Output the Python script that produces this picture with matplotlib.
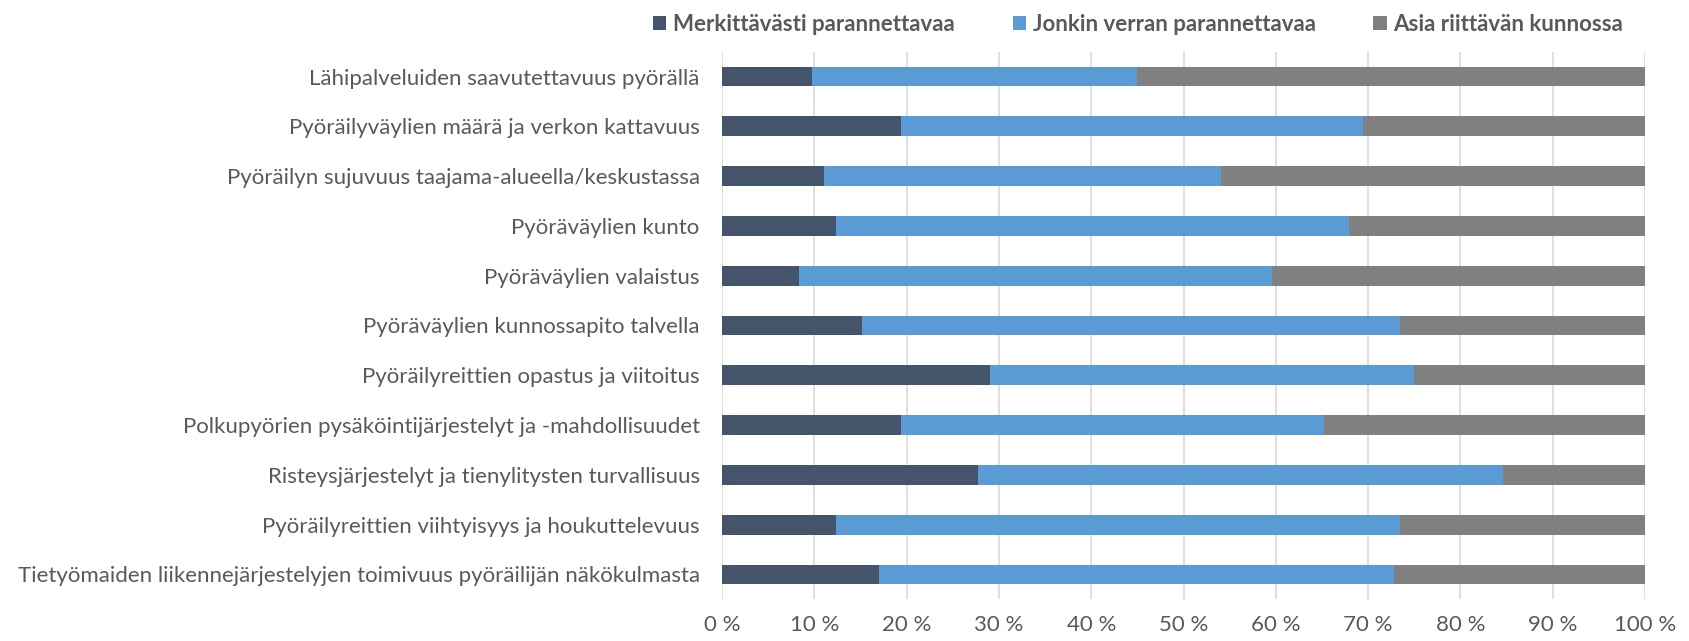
import numpy as np
import matplotlib.pyplot as plt
from matplotlib.ticker import FuncFormatter

plt.rcParams['font.family'] = ['Lato', 'DejaVu Sans']

# Kysymykset (ylhäältä alas)
kategoriat = [
    "Lähipalveluiden saavutettavuus pyörällä",
    "Pyöräilyväylien määrä ja verkon kattavuus",
    "Pyöräilyn sujuvuus taajama-alueella/keskustassa",
    "Pyöräväylien kunto",
    "Pyöräväylien valaistus",
    "Pyöräväylien kunnossapito talvella",
    "Pyöräilyreittien opastus ja viitoitus",
    "Polkupyörien pysäköintijärjestelyt ja -mahdollisuudet",
    "Risteysjärjestelyt ja tienylitysten turvallisuus",
    "Pyöräilyreittien viihtyisyys ja houkuttelevuus",
    "Tietyömaiden liikennejärjestelyjen toimivuus pyöräilijän näkökulmasta",
]

# Osuudet prosentteina
merkittavasti = [9.8, 19.4, 11.0, 12.4, 8.3, 15.2, 29.0, 19.4, 27.7, 12.4, 17.0]
jonkin_verran = [35.2, 50.0, 43.1, 55.5, 51.3, 58.3, 46.0, 45.8, 56.9, 61.1, 55.8]
riittava = [55.0, 30.6, 45.9, 32.1, 40.4, 26.5, 25.0, 34.8, 15.4, 26.5, 27.2]

sarjat = ["Merkittävästi parannettavaa", "Jonkin verran parannettavaa", "Asia riittävän kunnossa"]
varit = ["#44546A", "#5B9BD5", "#808080"]
tekstivari = "#595959"

fig = plt.figure(figsize=(16.9, 6.41), dpi=100)
ax = fig.add_axes([0.4272, 0.0649, 0.5462, 0.8546])

y = np.arange(len(kategoriat))
vasen = np.zeros(len(kategoriat))
for arvot, nimi, vari in zip([merkittavasti, jonkin_verran, riittava], sarjat, varit):
    arvot = np.array(arvot)
    ax.barh(y, arvot, left=vasen, height=0.4, color=vari, label=nimi, zorder=3)
    vasen += arvot

ax.set_ylim(len(kategoriat) - 0.5, -0.5)
ax.set_xlim(0, 100)
ax.set_xticks(np.arange(0, 101, 10))
ax.xaxis.set_major_formatter(FuncFormatter(lambda v, p: f"{int(v)} %"))
ax.set_yticks(y)
ax.set_yticklabels(kategoriat)
ax.tick_params(axis='both', length=0, labelsize=16, colors=tekstivari)
ax.tick_params(axis='x', pad=11)
ax.tick_params(axis='y', pad=16)
ax.grid(axis='x', color='#D9D9D9', linewidth=1.2, zorder=0)
for s in ax.spines.values():
    s.set_visible(False)

leg = fig.legend(loc='upper center', bbox_to_anchor=(0.6735, 1.01), ncol=3, frameon=False,
                 handlelength=0.6, handleheight=0.6, handletextpad=0.3, columnspacing=2.6,
                 prop={'weight': 'bold', 'size': 16})
for t in leg.get_texts():
    t.set_color(tekstivari)

fig.savefig("out.png", dpi=100)
